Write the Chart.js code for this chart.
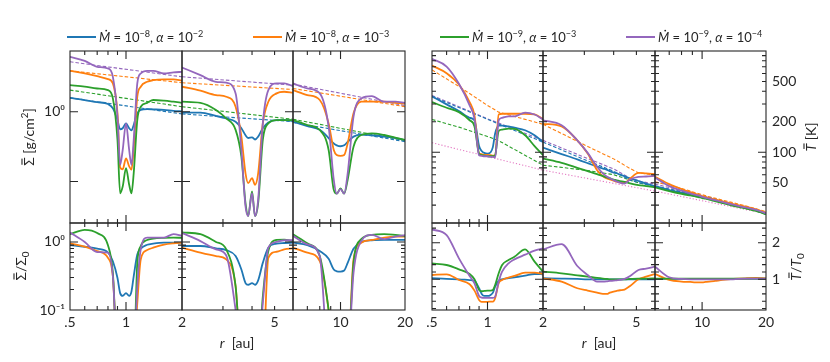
<!DOCTYPE html>
<html>
<head>
<meta charset="utf-8">
<script src="https://cdn.jsdelivr.net/npm/chart.js"></script>
<style>
  html, body { margin: 0; padding: 0; background: #fff; }
  #wrap { width: 830px; height: 362px; }
</style>
</head>
<body>
<div id="wrap"><canvas id="disc" width="830" height="362"></canvas></div>
<script>
// runs: blue, orange, green, purple  (log10 Mdot, log10 alpha)
const mdotExp = [-8, -8, -9, -9];
const alphaExp = [-2, -3, -3, -4];
const colors = ['#1f77b4', '#ff7f0e', '#2ca02c', '#9467bd'];
const irrColor = '#e377c2';

// every column is a separate run (planet at 1, 4 and 10 au)
const colRanges = [[0.5, 2], [2, 6], [6, 20]];
const r1 = [0.5, 0.6, 0.7, 0.8, 0.85, 0.9, 0.93, 0.96, 1.0, 1.04, 1.07, 1.1, 1.15, 1.2, 1.3, 1.4, 1.6, 1.8, 2.0];
const r2 = [2, 2.4, 2.8, 3.1, 3.4, 3.6, 3.75, 3.85, 4.0, 4.12, 4.25, 4.45, 4.7, 5.1, 5.5, 6.0];
const r3 = [6, 7, 8, 8.8, 9.3, 9.6, 10.0, 10.4, 10.8, 11.5, 12.5, 14, 16, 18, 20];

// surface density [g/cm^2]
const sigma1 = [
  [1.58, 1.47, 1.37, 1.29, 1.12, 0.76, 0.56, 0.58, 0.68, 0.58, 0.54, 0.645, 0.95, 1.06, 1.09, 1.08, 1.06, 1.03, 1.01],
  [3.85, 3.53, 3.23, 2.93, 2.54, 0.95, 0.16, 0.15, 0.215, 0.165, 0.148, 0.3, 1.64, 2.28, 2.68, 2.83, 2.9, 2.9, 2.77],
  [2.4, 2.28, 2.15, 2.04, 1.55, 0.394, 0.068, 0.085, 0.155, 0.09, 0.068, 0.131, 0.76, 1.18, 1.34, 1.47, 1.44, 1.39, 1.34],
  [6.1, 5.35, 4.4, 4.16, 3.16, 0.85, 0.173, 0.283, 0.68, 0.283, 0.173, 0.394, 2.54, 3.53, 3.85, 3.85, 3.53, 3.65, 3.73]
];
const sigma2 = [
  [0.97, 0.97, 0.87, 0.8, 0.72, 0.58, 0.46, 0.42, 0.43, 0.4, 0.44, 0.58, 0.7, 0.76, 0.76, 0.74],
  [2.28, 2.0, 1.73, 1.64, 1.18, 0.44, 0.131, 0.095, 0.112, 0.09, 0.131, 0.68, 1.39, 1.83, 1.93, 1.87],
  [1.39, 1.34, 1.06, 0.8, 0.55, 0.227, 0.049, 0.032, 0.072, 0.032, 0.049, 0.394, 0.68, 0.76, 0.76, 0.76],
  [4.3, 3.34, 2.68, 2.6, 1.83, 0.283, 0.044, 0.032, 0.068, 0.032, 0.055, 0.68, 2.04, 2.54, 2.54, 2.33]
];
const sigma3 = [
  [0.72, 0.62, 0.55, 0.42, 0.35, 0.33, 0.32, 0.33, 0.37, 0.44, 0.47, 0.46, 0.44, 0.42, 0.39],
  [2.04, 1.73, 1.47, 0.68, 0.283, 0.24, 0.233, 0.24, 0.353, 0.95, 1.39, 1.39, 1.39, 1.34, 1.31],
  [0.76, 0.645, 0.547, 0.283, 0.076, 0.067, 0.08, 0.067, 0.106, 0.316, 0.464, 0.49, 0.464, 0.425, 0.394],
  [2.54, 2.15, 1.83, 0.61, 0.106, 0.067, 0.078, 0.067, 0.131, 0.85, 1.55, 1.67, 1.39, 1.39, 1.34]
];
// initial surface density (dashed), at the column edges
const sigma0_1 = [[1.58, 0.93], [3.85, 2.6], [2.04, 1.18], [5.18, 3.16]];
const sigma0_2 = [[0.93, 0.72], [2.6, 2.08], [1.18, 0.78], [3.16, 2.4]];
const sigma0_3 = [[0.7, 0.373], [2.15, 1.18], [0.78, 0.385], [2.49, 1.22]];

// Sigma / Sigma_0
const ratio1 = [
  [0.9, 0.85, 0.8, 0.7, 0.52, 0.295, 0.177, 0.161, 0.177, 0.161, 0.187, 0.313, 0.656, 0.8, 0.91, 0.945, 0.977, 0.977, 0.977],
  [0.955, 0.853, 0.735, 0.585, 0.313, 0.02, 0.02, 0.02, 0.02, 0.02, 0.02, 0.02, 0.126, 0.553, 0.76, 0.824, 0.913, 0.955, 0.977],
  [1.3, 1.51, 1.35, 0.892, 0.35, 0.02, 0.02, 0.02, 0.02, 0.02, 0.02, 0.02, 0.493, 0.872, 1.07, 1.12, 1.15, 1.16, 1.15],
  [1.38, 1.0, 0.71, 0.695, 0.313, 0.02, 0.02, 0.02, 0.02, 0.02, 0.02, 0.02, 0.222, 0.778, 1.16, 1.16, 1.16, 1.3, 1.23]
];
const ratio2 = [
  [0.872, 0.872, 0.805, 0.76, 0.62, 0.393, 0.249, 0.235, 0.249, 0.235, 0.273, 0.493, 0.824, 0.945, 0.966, 0.977],
  [0.824, 0.695, 0.62, 0.553, 0.222, 0.02, 0.02, 0.02, 0.02, 0.02, 0.02, 0.02, 0.585, 0.718, 0.778, 0.805],
  [1.38, 1.3, 1.0, 0.778, 0.222, 0.02, 0.02, 0.02, 0.02, 0.02, 0.02, 0.158, 0.735, 1.07, 1.08, 1.03],
  [1.35, 1.03, 0.778, 0.634, 0.1, 0.02, 0.02, 0.02, 0.02, 0.02, 0.02, 0.126, 0.824, 1.0, 1.06, 1.06]
];
const ratio3 = [
  [0.977, 0.9, 0.735, 0.565, 0.393, 0.371, 0.367, 0.38, 0.493, 0.796, 1.0, 1.06, 1.07, 1.07, 1.07],
  [0.824, 0.695, 0.522, 0.1, 0.02, 0.02, 0.02, 0.02, 0.02, 0.553, 0.977, 1.07, 1.16, 1.2, 1.2],
  [1.3, 0.955, 0.62, 0.1, 0.02, 0.02, 0.02, 0.02, 0.02, 0.493, 1.1, 1.27, 1.3, 1.27, 1.23],
  [1.23, 0.923, 0.62, 0.02, 0.02, 0.02, 0.02, 0.02, 0.02, 0.351, 1.03, 1.27, 1.1, 1.2, 1.26]
];

// midplane temperature [K]
const temp1 = [
  [356, 297, 255, 219, 207, 115, 103, 98.5, 97, 100, 113, 153, 183, 183, 180, 175, 165, 147, 126],
  [718, 604, 467, 313, 231, 97, 95.6, 94.1, 94.1, 93.4, 92.7, 93.4, 236, 240, 240, 240, 240, 236, 214],
  [313, 275, 249, 207, 180, 97, 93.4, 92.7, 91.3, 91.3, 91.3, 93.4, 162, 167, 171, 170, 147, 115, 93.4],
  [836, 702, 474, 290, 214, 93.4, 92, 91.3, 91.3, 90, 90, 88.6, 207, 219, 226, 226, 246, 236, 211]
];
const temp2 = [
  [111, 96, 85, 78, 72, 69, 67, 65, 63, 62, 60, 58, 55, 52, 49, 46],
  [191, 180, 131, 97, 66.5, 58, 55.1, 53.8, 52.3, 51.1, 50.3, 50, 55, 62.6, 61.7, 60.8],
  [86.6, 78.5, 70.1, 65, 60.7, 58, 56.3, 55.1, 53.8, 52.6, 51.8, 51.1, 49.2, 47.3, 46.3, 44.9],
  [207, 185, 131, 98.5, 71.8, 61.7, 57.2, 55.5, 53, 51.5, 50, 49, 53.8, 57.2, 57.6, 58.5]
];
const temp3 = [
  [46.3, 42.3, 39.8, 38, 37.1, 36.6, 35.8, 35.3, 34.5, 33.5, 31.9, 30.1, 28.3, 26.7, 24.7],
  [57.2, 48.4, 43.3, 40.4, 38.9, 38, 36.9, 36.1, 35.3, 34.2, 32.7, 30.8, 29, 27.3, 25.3],
  [44.9, 41.4, 38.9, 37.4, 36.6, 36.1, 35.3, 34.8, 34, 32.9, 31.4, 29.6, 27.9, 26.3, 24.4],
  [56.3, 46.3, 41.7, 39.2, 38, 37.4, 36.3, 35.5, 34.8, 33.7, 32.2, 30.3, 28.5, 26.9, 24.9]
];
// initial temperature (dashed)
const temp0R1 = [0.5, 0.7, 1.0, 1.15, 2];
const temp0_1 = [[356, 276, 212, 190, 126], [651, 446, 290, 249, 189], [211, 177, 143, 130, 74.5], [364, 282, 214, 194, 131]];
const temp0R2 = [2, 3.1, 4.0, 4.7, 5.1, 6.0];
const temp0_2 = [[126, 82, 65, 53, 50, 46.3], [189, 114, 86, 69, 62.6, 59.4], [74.5, 66, 60, 53, 50, 45.6], [131, 86.6, 68.5, 55.5, 52, 48.4]];
const temp0R3 = [6, 8, 10.8, 16, 20];
const temp0_3 = [[46.3, 41, 35.5, 28.3, 24.7], [51.1, 43.9, 36.3, 29.6, 25.9], [45.6, 40.5, 35, 28, 24.4], [48.4, 42, 36, 28.5, 24.9]];
// irradiation temperature (pink dotted)
const tIrrR = [0.5, 2, 6, 20];
const tIrr = [124, 66.5, 41.3, 24.7];

// T / T_0
const tratio1 = [
  [1.03, 1.01, 1.0, 0.98, 0.96, 0.755, 0.6, 0.545, 0.545, 0.573, 0.636, 0.8, 0.964, 1.0, 1.03, 1.055, 1.1, 1.145, 1.136],
  [1.118, 1.136, 0.982, 0.864, 0.691, 0.436, 0.382, 0.382, 0.382, 0.391, 0.391, 0.482, 0.891, 0.982, 1.045, 1.091, 1.182, 1.182, 1.145],
  [1.436, 1.391, 1.273, 1.145, 1.0, 0.709, 0.673, 0.682, 0.691, 0.691, 0.709, 0.845, 1.164, 1.391, 1.527, 1.618, 1.818, 1.482, 1.209],
  [2.364, 2.209, 1.573, 1.091, 0.891, 0.545, 0.5, 0.491, 0.491, 0.491, 0.491, 0.527, 0.936, 1.209, 1.436, 1.545, 1.673, 1.782, 1.845]
];
const tratio2 = [
  [1.03, 1.02, 1.01, 1.0, 1.0, 1.0, 1.0, 1.0, 1.0, 1.0, 1.0, 1.0, 1.0, 1.0, 1.0, 1.0],
  [1.027, 0.936, 0.755, 0.691, 0.636, 0.6, 0.6, 0.636, 0.664, 0.682, 0.7, 0.718, 0.818, 1.0, 1.073, 1.145],
  [1.209, 1.164, 1.109, 1.073, 1.036, 1.018, 1.009, 1.0, 1.0, 1.0, 1.0, 1.0, 1.009, 1.018, 1.018, 1.027],
  [1.818, 1.964, 1.364, 1.118, 0.936, 0.936, 0.945, 0.955, 0.964, 0.973, 0.982, 1.009, 1.091, 1.255, 1.291, 1.345]
];
const tratio3 = [
  [1.01, 1.01, 1.01, 1.01, 1.01, 1.01, 1.01, 1.01, 1.01, 1.01, 1.01, 1.01, 1.01, 1.01, 1.01],
  [1.145, 0.982, 0.936, 0.927, 0.918, 0.918, 0.918, 0.927, 0.936, 0.955, 0.982, 1.009, 1.027, 1.036, 1.027],
  [1.02, 1.02, 1.02, 1.02, 1.02, 1.02, 1.02, 1.02, 1.02, 1.02, 1.02, 1.02, 1.02, 1.02, 1.02],
  [1.345, 1.055, 1.009, 1.0, 1.0, 1.0, 1.0, 1.0, 1.0, 1.0, 1.0, 1.0, 1.018, 1.018, 1.018]
];

// tick labels and tick marks
const xLabels = [[0.5, 1, 2], [5], [10, 20]];
const xMajor = [[1], [], [10]];
const xMinor = [[0.6, 0.7, 0.8, 0.9], [3, 4, 5], [7, 8, 9]];
const sigmaLabels = [[1, '10⁰']];
const ratioLabels = [[1, '10⁰'], [0.1, '10⁻¹']];
const tempLabels = [[50, '50'], [100, '100'], [200, '200'], [500, '500']];
const tratioLabels = [[1, '1'], [2, '2']];

const INK = '#262626';
const FONT = "Lato, 'DejaVu Sans', sans-serif";
const FS = 14;
Chart.defaults.font.family = FONT;
Chart.defaults.font.size = FS;
Chart.defaults.color = INK;

function makeLine(xAxisID, yAxisID, xs, ys, color, kind, order) {
  return {
    xAxisID: xAxisID,
    yAxisID: yAxisID,
    order: order,
    data: xs.map((x, i) => ({ x: x, y: ys[i] })),
    borderColor: color,
    borderWidth: kind === 'solid' ? 1.8 : 1.1,
    borderDash: kind === 'dashed' ? [3.5, 2] : (kind === 'dotted' ? [1.2, 2] : []),
    pointRadius: 0,
    pointHoverRadius: 0,
    fill: false,
    cubicInterpolationMode: kind === 'solid' ? 'monotone' : 'default',
    tension: 0
  };
}

const rGrids = [r1, r2, r3];
const sigmaCols = [sigma1, sigma2, sigma3];
const sigma0Cols = [sigma0_1, sigma0_2, sigma0_3];
const ratioCols = [ratio1, ratio2, ratio3];
const tempCols = [temp1, temp2, temp3];
const temp0Rs = [temp0R1, temp0R2, temp0R3];
const temp0Cols = [temp0_1, temp0_2, temp0_3];
const tratioCols = [tratio1, tratio2, tratio3];
const leftX = ['x1', 'x2', 'x3'];
const rightX = ['x4', 'x5', 'x6'];

const datasets = [];
for (let c = 0; c < 3; c++) {
  for (let s = 0; s < 4; s++) {
    const ord = 3 - s;
    datasets.push(makeLine(leftX[c], 'yS', rGrids[c], sigmaCols[c][s], colors[s], 'solid', ord));
    datasets.push(makeLine(leftX[c], 'yS', colRanges[c], sigma0Cols[c][s], colors[s], 'dashed', 10));
    datasets.push(makeLine(leftX[c], 'yR', rGrids[c], ratioCols[c][s], colors[s], 'solid', ord));
    datasets.push(makeLine(rightX[c], 'yT', rGrids[c], tempCols[c][s], colors[s], 'solid', ord));
    datasets.push(makeLine(rightX[c], 'yT', temp0Rs[c], temp0Cols[c][s], colors[s], 'dashed', 10));
    datasets.push(makeLine(rightX[c], 'yTR', rGrids[c], tratioCols[c][s], colors[s], 'solid', ord));
  }
  const idx = tIrrR.map((r, i) => i).filter(i => tIrrR[i] >= colRanges[c][0] && tIrrR[i] <= colRanges[c][1]);
  datasets.push(makeLine(rightX[c], 'yT', idx.map(i => tIrrR[i]), idx.map(i => tIrr[i]), irrColor, 'dotted', 11));
}

function xAxis(c, weight, order) {
  const labels = xLabels[c % 3];
  return {
    type: 'logarithmic', position: 'bottom', stack: 'r', stackWeight: weight, weight: order,
    min: colRanges[c % 3][0], max: colRanges[c % 3][1],
    grid: { display: false, drawTicks: false }, border: { display: false },
    afterBuildTicks: s => { s.ticks = labels.map(v => ({ value: v })); },
    afterFit: s => { s.height = 52; },
    ticks: {
      autoSkip: false, maxRotation: 0, minRotation: 0, padding: 4,
      callback: v => (v === 0.5 ? '.5' : String(v))
    }
  };
}

function yAxis(type, pos, stack, weight, order, min, max, labels, pad) {
  return {
    type: type, position: pos, stack: stack, stackWeight: weight, weight: order,
    min: min, max: max,
    grid: { display: false, drawTicks: false }, border: { display: false },
    afterBuildTicks: s => { s.ticks = labels.map(l => ({ value: l[0] })); },
    afterFit: s => { s.width = pos === 'left' ? 70 : 64; },
    ticks: {
      autoSkip: false, padding: pad,
      callback: v => { const f = labels.find(l => l[0] === v); return f ? f[1] : ''; }
    }
  };
}

// tick marks for the frame plugin: [value, length]
function tickList(major, minor) {
  return major.map(v => [v, 8]).concat(minor.map(v => [v, 4]));
}
const tickMarks = {
  yS: tickList([0.1, 1], []),
  yR: tickList([1], [0.2, 0.3, 0.4, 0.5, 0.6, 0.7, 0.8, 0.9]),
  yT: tickList([100], [30, 40, 50, 60, 70, 80, 90, 200, 300, 400, 500, 600, 700, 800, 900]),
  yTR: tickList([1, 2], [0.2, 0.4, 0.6, 0.8, 1.2, 1.4, 1.6, 1.8, 2.2, 2.4])
};
for (let c = 0; c < 3; c++) {
  tickMarks[leftX[c]] = tickList(xMajor[c], xMinor[c]);
  tickMarks[rightX[c]] = tickList(xMajor[c], xMinor[c]);
}

function drawRich(ctx, runs, x, y, size, align) {
  const italic = st => st === 'i' || st === 'ibar' || st === 'idot';
  const small = st => st === 'sup' || st === 'sub';
  const fontOf = st => (italic(st) ? 'italic ' : '') + (small(st) ? size * 0.7 : size) + 'px ' + FONT;
  let total = 0;
  runs.forEach(([t, st]) => { ctx.font = fontOf(st); total += ctx.measureText(t).width; });
  let cx = align === 'center' ? x - total / 2 : x;
  ctx.textAlign = 'left';
  ctx.textBaseline = 'alphabetic';
  runs.forEach(([t, st]) => {
    ctx.font = fontOf(st);
    const w = ctx.measureText(t).width;
    const dy = st === 'sup' ? -size * 0.42 : (st === 'sub' ? size * 0.22 : 0);
    ctx.fillText(t, cx, y + dy);
    if (st === 'bar' || st === 'ibar') {
      const sh = italic(st) ? size * 0.12 : 0;
      ctx.fillRect(cx + w * 0.12 + sh, y - size * 0.9, w * 0.72, 1.1);
    }
    if (st === 'idot') {
      ctx.beginPath();
      ctx.arc(cx + w * 0.55 + size * 0.08, y - size * 0.88, size * 0.07, 0, 2 * Math.PI);
      ctx.fill();
    }
    cx += w;
  });
}

function drawVertical(ctx, runs, cx, cy, size) {
  ctx.save();
  ctx.translate(cx, cy);
  ctx.rotate(-Math.PI / 2);
  drawRich(ctx, runs, 0, size * 0.36, size, 'center');
  ctx.restore();
}

const framePlugin = {
  id: 'frames',
  afterDatasetsDraw(chart) {
    const ctx = chart.ctx;
    ctx.save();
    ctx.strokeStyle = INK;
    ctx.lineWidth = 1.1;
    ctx.setLineDash([]);
    [[leftX, ['yS', 'yR']], [rightX, ['yT', 'yTR']]].forEach(([xs, ys]) => {
      xs.forEach(xid => ys.forEach(yid => {
        const sx = chart.scales[xid], sy = chart.scales[yid];
        const L = sx.left, R = sx.right, T = sy.top, B = sy.bottom;
        ctx.strokeRect(L, T, R - L, B - T);
        ctx.beginPath();
        tickMarks[xid].forEach(([v, len]) => {
          const p = sx.getPixelForValue(v);
          ctx.moveTo(p, B); ctx.lineTo(p, B - len);
          ctx.moveTo(p, T); ctx.lineTo(p, T + len);
        });
        tickMarks[yid].forEach(([v, len]) => {
          const p = sy.getPixelForValue(v);
          ctx.moveTo(L, p); ctx.lineTo(L + len, p);
          ctx.moveTo(R, p); ctx.lineTo(R - len, p);
        });
        ctx.stroke();
      }));
    });
    ctx.restore();
  },
  afterDraw(chart) {
    const ctx = chart.ctx;
    ctx.save();
    // legend
    const legendX = [67, 253, 440, 626];
    for (let s = 0; s < 4; s++) {
      const x0 = legendX[s], y0 = 37;
      ctx.strokeStyle = colors[s];
      ctx.lineWidth = 2;
      ctx.beginPath(); ctx.moveTo(x0, y0); ctx.lineTo(x0 + 29, y0); ctx.stroke();
      ctx.fillStyle = INK;
      drawRich(ctx, [['M', 'idot'], [' = 10', ''], ['−' + Math.abs(mdotExp[s]), 'sup'], [', ', ''],
        ['α', 'i'], [' = 10', ''], ['−' + Math.abs(alphaExp[s]), 'sup']], x0 + 32, y0 + 5, 13, 'left');
    }
    // axis titles
    ctx.fillStyle = INK;
    drawVertical(ctx, [['Σ', 'bar'], [' [g/cm', ''], ['2', 'sup'], [']', '']], 29, 137, FS);
    drawVertical(ctx, [['Σ', 'bar'], ['/Σ', ''], ['0', 'sub']], 21, 266, FS);
    drawVertical(ctx, [['T', 'ibar'], [' [K]', '']], 811, 137, FS);
    drawVertical(ctx, [['T', 'ibar'], ['/', ''], ['T', 'i'], ['0', 'sub']], 796, 267, FS);
    drawRich(ctx, [['r', 'i'], ['  [au]', '']], 237, 348, FS, 'center');
    drawRich(ctx, [['r', 'i'], ['  [au]', '']], 599, 348, FS, 'center');
    ctx.restore();
  }
};

const scales = {
  yS: yAxis('logarithmic', 'left', 'l', 172, 1, 0.0255, 7.4, sigmaLabels, 5),
  yR: yAxis('logarithmic', 'left', 'l', 87, 0, 0.1, 1.9, ratioLabels, 5),
  yT: yAxis('logarithmic', 'right', 'rt', 172, 0, 20, 1000, tempLabels, 6),
  yTR: yAxis('linear', 'right', 'rt', 87, 1, 0.16, 2.54, tratioLabels, 6),
  x1: xAxis(0, 112, 0),
  x2: xAxis(1, 111, 1),
  x3: xAxis(2, 112, 2),
  gap: {
    type: 'linear', position: 'bottom', stack: 'r', stackWeight: 27, weight: 3,
    grid: { display: false, drawTicks: false }, border: { display: false },
    ticks: { display: false },
    afterFit: s => { s.height = 52; }
  },
  x4: xAxis(3, 111, 4),
  x5: xAxis(4, 112, 5),
  x6: xAxis(5, 111, 6)
};

new Chart(document.getElementById('disc').getContext('2d'), {
  type: 'line',
  data: { datasets: datasets },
  options: {
    responsive: false,
    animation: false,
    events: [],
    layout: { padding: { top: 51, left: 0, right: 0, bottom: 0 } },
    plugins: { legend: { display: false }, tooltip: { enabled: false } },
    scales: scales
  },
  plugins: [framePlugin]
});
</script>
</body>
</html>
